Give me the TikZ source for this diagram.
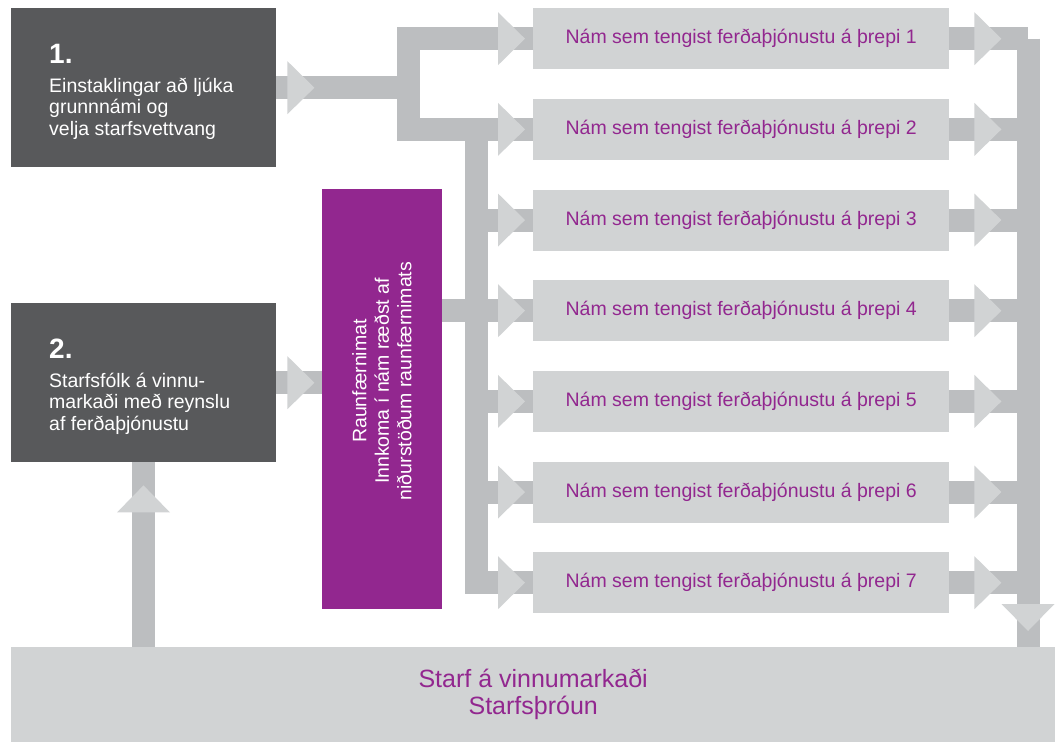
\documentclass[tikz,border=0pt]{standalone}
\usepackage{fontspec}
\setmainfont{Liberation Sans}
\usepackage{xcolor}
\usetikzlibrary{positioning,calc}

\definecolor{darkbox}{HTML}{58595B}
\definecolor{raunpurple}{HTML}{92278F}
\definecolor{lightbox}{HTML}{D1D3D4}
\definecolor{bargray}{HTML}{BCBEC0}

\tikzset{
  startbox/.style={fill=darkbox, minimum width=265pt, minimum height=159pt, inner sep=0pt, anchor=north west},
  stepbox/.style={fill=lightbox, minimum width=416pt, minimum height=61pt, inner sep=0pt, anchor=north west,
    text=raunpurple, font=\fontsize{19.5}{22}\selectfont},
  boxtext/.style={anchor=base west, align=left, inner sep=0pt, text=white, font=\fontsize{19.5}{21.5}\selectfont},
  boxnum/.style={anchor=base west, inner sep=0pt, text=white, font=\bfseries\fontsize{28}{28}\selectfont},
  bar/.style={draw=bargray, line width=23pt, line join=miter},
  pics/pointer/.style={code={\fill[lightbox] (0,-26.5) -- (27,0) -- (0,26.5) -- cycle;}}
}

\begin{document}
\begin{tikzpicture}[x=1pt,y=-1pt]
    \useasboundingbox (0,0) rectangle (1055,742);

    % Start boxes (text placed by the baseline of its last line)
    \node[startbox] (box1) at (11,8) {};
    \node[boxnum] (num1) at (49,63) {1.};
    \node[boxtext] (txt1) at (49,135) {Einstaklingar að ljúka\\grunnnámi og\\velja starfsvettvang};

    \node[startbox] (box2) at (11,303) {};
    \node[boxnum] (num2) at (49,358) {2.};
    \node[boxtext] (txt2) at (49,430) {Starfsfólk á vinnu-\\markaði með reynslu\\af ferðaþjónustu};

    % Raunfaernimat
    \node[fill=raunpurple, minimum width=120pt, minimum height=420pt, inner sep=0pt, anchor=north west] (raun) at (322,189) {};
    \node[rotate=90, text=white, align=center, inner sep=0pt, font=\fontsize{19.5}{22.5}\selectfont] (rauntxt) at (382,381)
        {Raunfærnimat\\Innkoma í nám ræðst af\\niðurstöðum raunfærnimats};

    % Steps 1-7
    \foreach \i in {1,...,7} {
        \pgfmathsetmacro{\ytop}{8+(\i-1)*90.67}
        \node[stepbox] (step\i) at (533,\ytop) {Nám sem tengist ferðaþjónustu á þrepi \i};
    }

    % Bottom box
    \node[fill=lightbox, minimum width=1044pt, minimum height=95pt, inner sep=0pt, anchor=north west,
        text=raunpurple, align=center, font=\fontsize{25}{27}\selectfont] (starf) at (11,647)
        {Starf á vinnumarkaði\\Starfsþróun};

    % Bar lines
    \coordinate (split) at (408.5,0);
    \coordinate (left) at (476.5,0);
    \coordinate (right) at (1028,0);
    \coordinate (up) at (143.5,0);

    \draw[bar] (box1.east) -- (box1.east -| split);
    \draw[bar] (step1.west) -- (step1.west -| split) -- (step2.west -| split) -- (step2.west);
    \draw[bar] (step2.west -| left) -- (step7.west -| left) -- (step7.west);
    \foreach \i in {3,...,6} {
        \draw[bar] (step\i.west -| left) -- (step\i.west);
    }
    \draw[bar] (raun.east |- step4.west) -- (step4.west -| left);
    \draw[bar] (box2.east) -- (box2.east -| raun.west);
    \foreach \i in {1,...,7} {
        \draw[bar] (step\i.east) -- (step\i.east -| right);
    }
    \draw[bar] (step1.east -| right) -- (starf.north -| right);
    \draw[bar] (starf.north -| up) -- (box2.south -| up);

    % Arrow heads
    \pic at ([xshift=11pt]box1.east) {pointer};
    \pic at ([xshift=11pt]box2.east) {pointer};
    \foreach \i in {1,...,7} {
        \pic at ([xshift=-35pt]step\i.west) {pointer};
        \pic at ([xshift=25pt]step\i.east) {pointer};
    }
    \pic[rotate=-90] at ($(starf.north -| right)+(0,-43)$) {pointer};
    \pic[rotate=90] at ($(box2.south -| up)+(0,50)$) {pointer};
\end{tikzpicture}
\end{document}
